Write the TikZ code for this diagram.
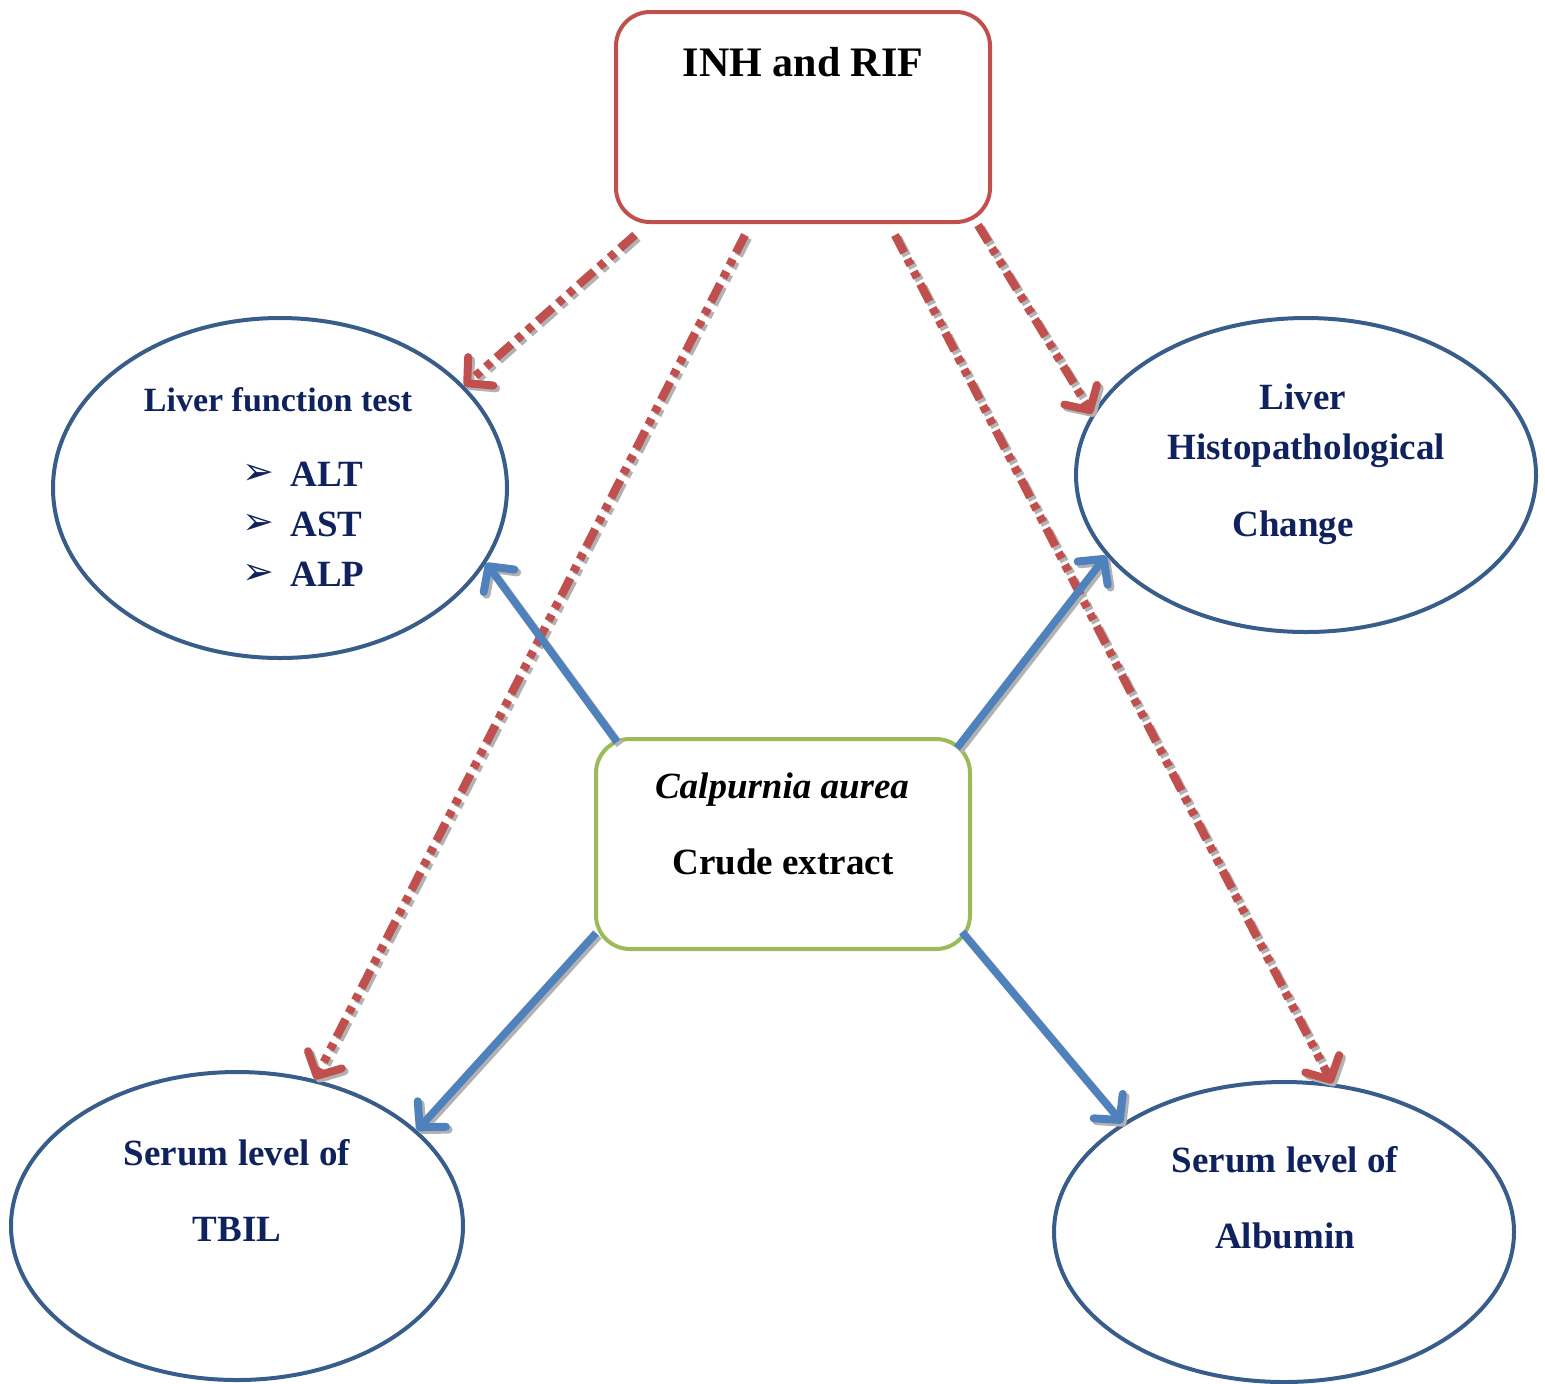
\documentclass[tikz,border=0pt]{standalone}
\usepackage{fontspec}
\setmainfont{Liberation Serif}
\newfontfamily\bulletfont{DejaVu Sans}
\usetikzlibrary{shapes.geometric,arrows.meta}

\definecolor{drugred}{RGB}{192,80,77}
\definecolor{herbgreen}{RGB}{155,187,89}
\definecolor{ovalblue}{RGB}{56,93,138}
\definecolor{effectblue}{RGB}{79,129,189}
\definecolor{labelnavy}{RGB}{16,34,94}

\tikzset{
  drugbox/.style={draw=drugred, line width=2pt, rounded corners=17pt, minimum width=187pt, minimum height=105pt, inner sep=0pt},
  herbbox/.style={draw=herbgreen, line width=2pt, rounded corners=17pt, minimum width=187pt, minimum height=105pt, inner sep=0pt},
  oval/.style={draw=ovalblue, line width=2pt, ellipse, inner sep=0pt},
  lbl/.style={text=labelnavy, font=\fontsize{18.5}{22}\selectfont\bfseries, inner sep=0pt, anchor=base},
  blk/.style={text=black, font=\fontsize{18.5}{22}\selectfont\bfseries, inner sep=0pt, anchor=base},
  barb/.style={-{Straight Barb[length=9pt,width=19pt,line width=4pt,line cap=round,line join=round]}},
  toxic/.style={barb, draw=drugred, line width=4.2pt,
    dash pattern=on 10pt off 3.5pt on 3.5pt off 3.5pt on 3.5pt off 3.5pt},
  protect/.style={barb, draw=effectblue, line width=3.8pt},
  shade/.style={draw=black!30},
}

\begin{document}
\begin{tikzpicture}[x=0.5pt,y=-0.5pt]
\useasboundingbox (0,0) rectangle (1545,1383);

% boxes
\node[drugbox] (inh) at (803,117) {};
\node[herbbox] (herb) at (783,844) {};

% ovals
\node[oval, minimum width=227pt, minimum height=170pt] (lft) at (280,488) {};
\node[oval, minimum width=230pt, minimum height=157pt] (histo) at (1306,475) {};
\node[oval, minimum width=226pt, minimum height=154pt] (tbil) at (237,1226) {};
\node[oval, minimum width=230pt, minimum height=150pt] (alb) at (1284,1232) {};

% texts
\node[blk, font=\fontsize{21}{24}\selectfont\bfseries] (inhtext) at (803,76) {INH and RIF};
\node[blk, font=\fontsize{18.5}{22}\selectfont\bfseries\itshape] (herbname) at (782,798) {Calpurnia aurea};
\node[blk] (herbtext) at (783,874) {Crude extract};

\node[lbl, font=\fontsize{17}{20}\selectfont\bfseries] (lfttitle) at (278,411) {Liver function test};
\foreach \enz/\yy in {ALT/474, AST/524, ALP/574}{
  \node[text=labelnavy, font=\bulletfont\fontsize{19}{21}\selectfont, inner sep=0pt] (b\enz) at (258,\yy) {➢};
  \node[lbl, anchor=base west] (t\enz) at (290,\yy+12) {\enz};
}

\node[lbl] (histo1) at (1303,409) {Liver};
\node[lbl] (histo2) at (1306,459) {Histopathological};
\node[lbl] (histo3) at (1293,536) {Change};

\node[lbl] (tbil1) at (237,1165) {Serum level of};
\node[lbl] (tbil2) at (237,1241) {TBIL};

\node[lbl] (alb1) at (1285,1172) {Serum level of};
\node[lbl] (alb2) at (1285,1248) {Albumin};

% start points of the connectors
\coordinate (r1) at (635,235);
\coordinate (r2) at (745,235);
\coordinate (r3) at (895,235);
\coordinate (r4) at (978,225);
\coordinate (g1) at (617,742);
\coordinate (g2) at (957,748);
\coordinate (g3) at (596,933);
\coordinate (g4) at (962,932);

% drop shadows
\begin{scope}[transform canvas={shift={(1.4pt,-1.4pt)}}]
\draw[toxic, shade] (r1) -- (lft.29.9);
\draw[toxic, shade] (r2) -- (tbil.62.4);
\draw[toxic, shade] (r3) -- (alb.72.4);
\draw[toxic, shade] (r4) -- (histo.164.2);
\draw[protect, shade] (g1) -- (lft.-20.6);
\draw[protect, shade] (g2) -- (histo.202.9);
\draw[protect, shade] (g3) -- (tbil.28.7);
\draw[protect, shade] (g4) -- (alb.146.6);
\end{scope}

% INH and RIF effects
\draw[toxic] (r1) -- (lft.29.9);
\draw[toxic] (r2) -- (tbil.62.4);
\draw[toxic] (r3) -- (alb.72.4);
\draw[toxic] (r4) -- (histo.164.2);

% extract effects
\draw[protect] (g1) -- (lft.-20.6);
\draw[protect] (g2) -- (histo.202.9);
\draw[protect] (g3) -- (tbil.28.7);
\draw[protect] (g4) -- (alb.146.6);

\end{tikzpicture}
\end{document}
